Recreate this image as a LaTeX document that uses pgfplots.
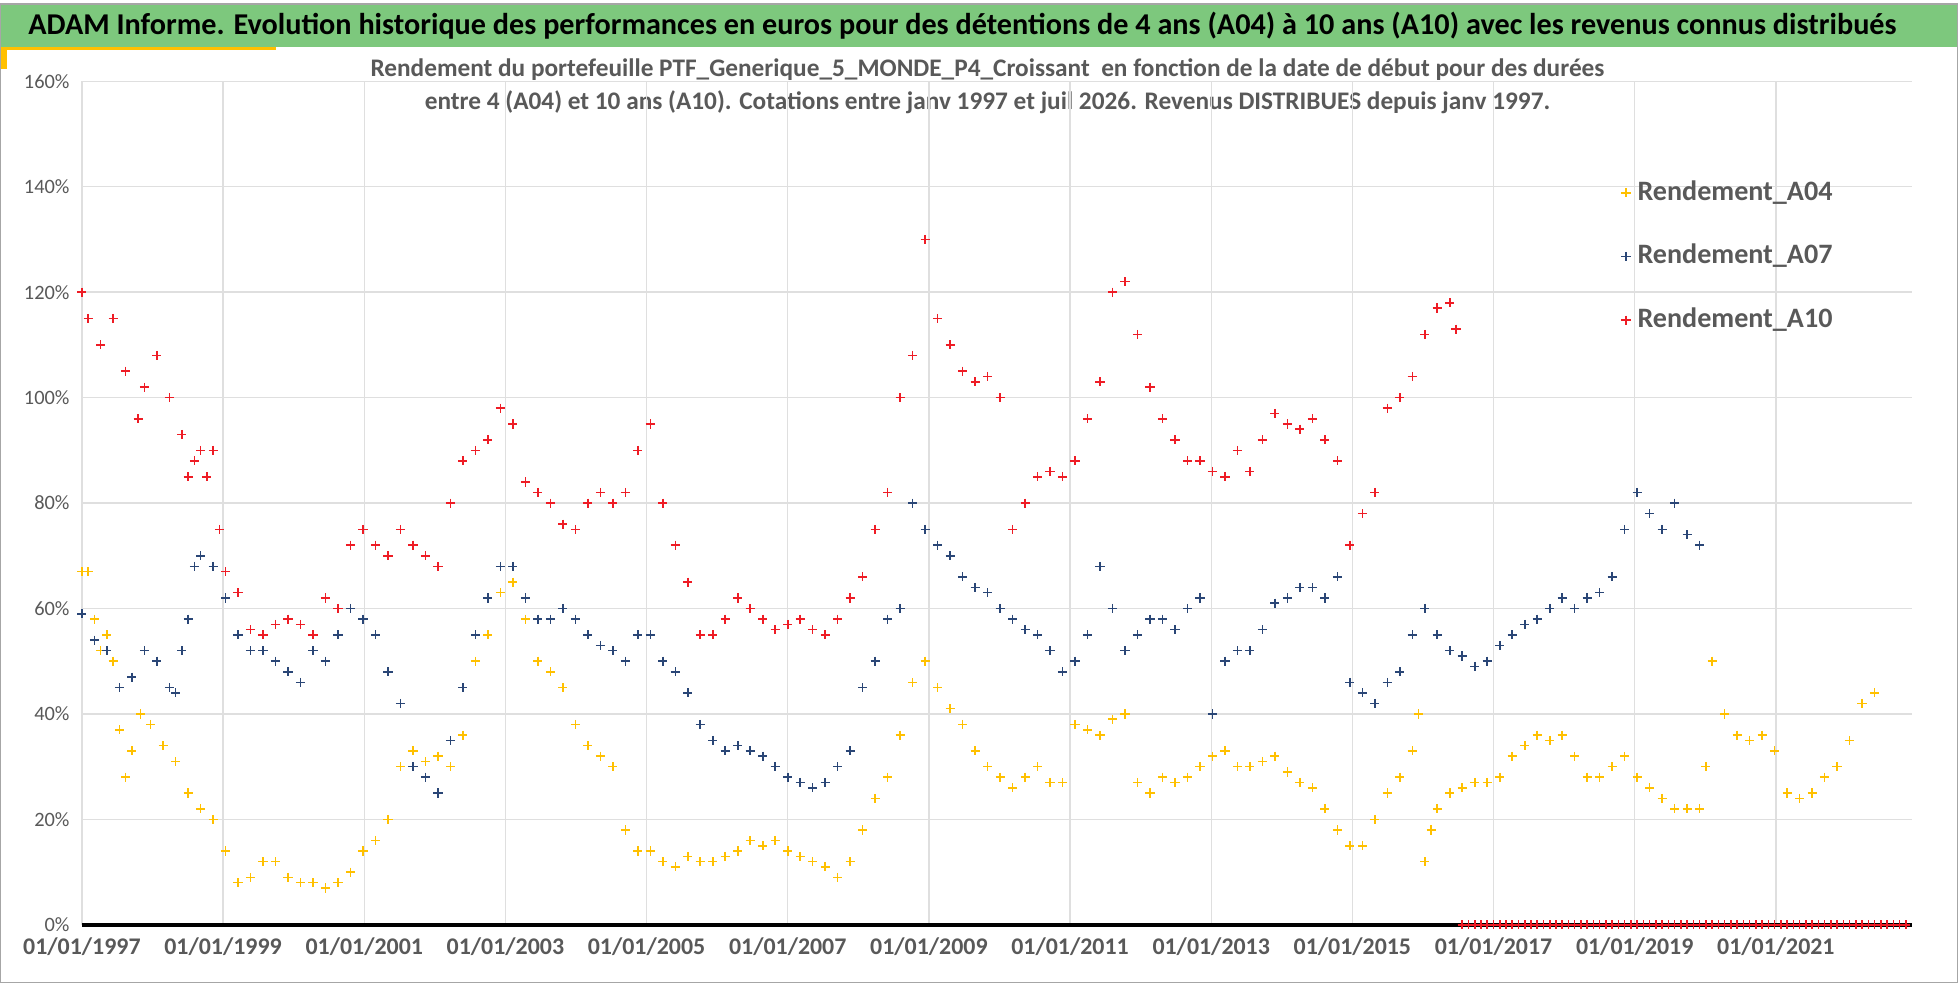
\documentclass[border=0pt]{standalone}
\usepackage{pgfplots}
\pgfplotsset{compat=1.18}
\usepackage{pgfplotstable}
\usepackage{fontspec}
\setmainfont{Carlito}
\definecolor{ayel}{HTML}{FFC000}
\definecolor{ablu}{HTML}{2A4676}
\definecolor{ared}{HTML}{EE1C25}
\definecolor{agrn}{HTML}{7DC87D}
\definecolor{agry}{HTML}{595959}
\pgfplotstableread{
p v
65 67
70 67
75 58
80 52
85 55
90 50
95 37
100 28
105 33
112 40
120 38
130 34
140 31
150 25
160 22
170 20
180 14
190 8
200 9
210 12
220 12
230 9
240 8
250 8
260 7
270 8
280 10
290 14
300 16
310 20
320 30
330 33
340 31
350 32
360 30
370 36
380 50
390 55
400 63
410 65
420 58
430 50
440 48
450 45
460 38
470 34
480 32
490 30
500 18
510 14
520 14
530 12
540 11
550 13
560 12
570 12
580 13
590 14
600 16
610 15
620 16
630 14
640 13
650 12
660 11
670 9
680 12
690 18
700 24
710 28
720 36
730 46
740 50
750 45
760 41
770 38
780 33
790 30
800 28
810 26
820 28
830 30
840 27
850 27
860 38
870 37
880 36
890 39
900 40
910 27
920 25
930 28
940 27
950 28
960 30
970 32
980 33
990 30
1000 30
1010 31
1020 32
1030 29
1040 27
1050 26
1060 22
1070 18
1080 15
1090 15
1100 20
1110 25
1120 28
1130 33
1135 40
1140 12
1145 18
1150 22
1160 25
1170 26
1180 27
1190 27
1200 28
1210 32
1220 34
1230 36
1240 35
1250 36
1260 32
1270 28
1280 28
1290 30
1300 32
1310 28
1320 26
1330 24
1340 22
1350 22
1360 22
1365 30
1370 50
1380 40
1390 36
1400 35
1410 36
1420 33
1430 25
1440 24
1450 25
1460 28
1470 30
1480 35
1490 42
1500 44
}\tabA
\pgfplotstableread{
p v
65 59
75 54
85 52
95 45
105 47
115 52
125 50
135 45
140 44
145 52
150 58
155 68
160 70
170 68
180 62
190 55
200 52
210 52
220 50
230 48
240 46
250 52
260 50
270 55
280 60
290 58
300 55
310 48
320 42
330 30
340 28
350 25
360 35
370 45
380 55
390 62
400 68
410 68
420 62
430 58
440 58
450 60
460 58
470 55
480 53
490 52
500 50
510 55
520 55
530 50
540 48
550 44
560 38
570 35
580 33
590 34
600 33
610 32
620 30
630 28
640 27
650 26
660 27
670 30
680 33
690 45
700 50
710 58
720 60
730 80
740 75
750 72
760 70
770 66
780 64
790 63
800 60
810 58
820 56
830 55
840 52
850 48
860 50
870 55
880 68
890 60
900 52
910 55
920 58
930 58
940 56
950 60
960 62
970 40
980 50
990 52
1000 52
1010 56
1020 61
1030 62
1040 64
1050 64
1060 62
1070 66
1080 46
1090 44
1100 42
1110 46
1120 48
1130 55
1140 60
1150 55
1160 52
1170 51
1180 49
1190 50
1200 53
1210 55
1220 57
1230 58
1240 60
1250 62
1260 60
1270 62
1280 63
1290 66
1300 75
1310 82
1320 78
1330 75
1340 80
1350 74
1360 72
}\tabB
\pgfplotstableread{
p v
65 120
70 115
80 110
90 115
100 105
110 96
115 102
125 108
135 100
145 93
150 85
155 88
160 90
165 85
170 90
175 75
180 67
190 63
200 56
210 55
220 57
230 58
240 57
250 55
260 62
270 60
280 72
290 75
300 72
310 70
320 75
330 72
340 70
350 68
360 80
370 88
380 90
390 92
400 98
410 95
420 84
430 82
440 80
450 76
460 75
470 80
480 82
490 80
500 82
510 90
520 95
530 80
540 72
550 65
560 55
570 55
580 58
590 62
600 60
610 58
620 56
630 57
640 58
650 56
660 55
670 58
680 62
690 66
700 75
710 82
720 100
730 108
740 130
750 115
760 110
770 105
780 103
790 104
800 100
810 75
820 80
830 85
840 86
850 85
860 88
870 96
880 103
890 120
900 122
910 112
920 102
930 96
940 92
950 88
960 88
970 86
980 85
990 90
1000 86
1010 92
1020 97
1030 95
1040 94
1050 96
1060 92
1070 88
1080 72
1090 78
1100 82
1110 98
1120 100
1130 104
1140 112
1150 117
1160 118
1165 113
1170 0
1175 0
1180 0
1185 0
1190 0
1195 0
1200 0
1205 0
1210 0
1215 0
1220 0
1225 0
1230 0
1235 0
1240 0
1245 0
1250 0
1255 0
1260 0
1265 0
1270 0
1275 0
1280 0
1285 0
1290 0
1295 0
1300 0
1305 0
1310 0
1315 0
1320 0
1325 0
1330 0
1335 0
1340 0
1345 0
1350 0
1355 0
1360 0
1365 0
1370 0
1375 0
1380 0
1385 0
1390 0
1395 0
1400 0
1405 0
1410 0
1415 0
1420 0
1425 0
1430 0
1435 0
1440 0
1445 0
1450 0
1455 0
1460 0
1465 0
1470 0
1475 0
1480 0
1485 0
1490 0
1495 0
1500 0
1505 0
1510 0
1515 0
1520 0
1525 0
}\tabC
\begin{document}
\begin{tikzpicture}
\fill[white] (-8.125mm,-5.75mm) rectangle (187.625mm,92.125mm);
\fill[agrn] (-8.125mm,87.875mm) rectangle (187.625mm,92.125mm);
\fill[ayel] (-8.125mm,87.5mm) rectangle (19.375mm,87.875mm);
\fill[ayel] (-8.125mm,85.625mm) rectangle (-7.5mm,87.875mm);
\draw[gray!70] (-8.125mm,-5.75mm) rectangle (187.625mm,92.125mm);
\node[anchor=west,font=\bfseries\fontsize{8.6}{10}\selectfont] at (-6.6mm,90mm) {ADAM Informe. Evolution historique des performances en euros pour des détentions de 4 ans (A04) à 10 ans (A10) avec les revenus connus distribués};
\node[align=center,text=agry,font=\bfseries\fontsize{7.2}{9.5}\selectfont] at (90.6mm,83.9mm) {Rendement du portefeuille PTF\_Generique\_5\_MONDE\_P4\_Croissant\ \ en fonction de la date de début pour des durées\\entre 4 (A04) et 10 ans (A10). Cotations entre janv 1997 et juil 2026. Revenus DISTRIBUES depuis janv 1997.};
\begin{axis}[at={(0,0)},anchor=south west,
  scale only axis,width=183.1mm,height=84.4mm,
  xmin=1997,xmax=2022.93,ymin=0,ymax=160,
  axis x line=bottom, axis y line=left,
  x axis line style={black,line width=1.2pt,-},
  y axis line style={draw=none},
  xtick={1997,1999,...,2021},
  xticklabels={01/01/1997,01/01/1999,01/01/2001,01/01/2003,01/01/2005,01/01/2007,01/01/2009,01/01/2011,01/01/2013,01/01/2015,01/01/2017,01/01/2019,01/01/2021},
  ytick={0,20,...,160},
  yticklabel={\pgfmathprintnumber{\tick}\%},
  /pgf/number format/assume math mode=true,
  major tick length=0pt,
  ticklabel style={text=agry,font=\fontsize{5.8}{7}\selectfont},
  xticklabel style={font=\bfseries\fontsize{6.8}{8}\selectfont},
  grid=major, grid style={gray!25,line width=0.4pt},
  clip=false,
  legend style={at={(0.835,0.9)},anchor=north west,draw=none,fill=none,
    font=\bfseries\fontsize{8}{10}\selectfont,text=agry,row sep=7pt},
  legend cell align=left,
]
\addplot[only marks,mark=+,mark size=1.3pt,ayel,mark options={line width=0.45pt}] table[x expr={1997+(\thisrow{p}-65)/56.5},y=v]{\tabA};
\addlegendentry{Rendement\_A04}
\addplot[only marks,mark=+,mark size=1.3pt,ablu,mark options={line width=0.45pt}] table[x expr={1997+(\thisrow{p}-65)/56.5},y=v]{\tabB};
\addlegendentry{Rendement\_A07}
\addplot[only marks,mark=+,mark size=1.3pt,ared,mark options={line width=0.45pt}] table[x expr={1997+(\thisrow{p}-65)/56.5},y=v]{\tabC};
\addlegendentry{Rendement\_A10}
\end{axis}
\end{tikzpicture}
\end{document}
